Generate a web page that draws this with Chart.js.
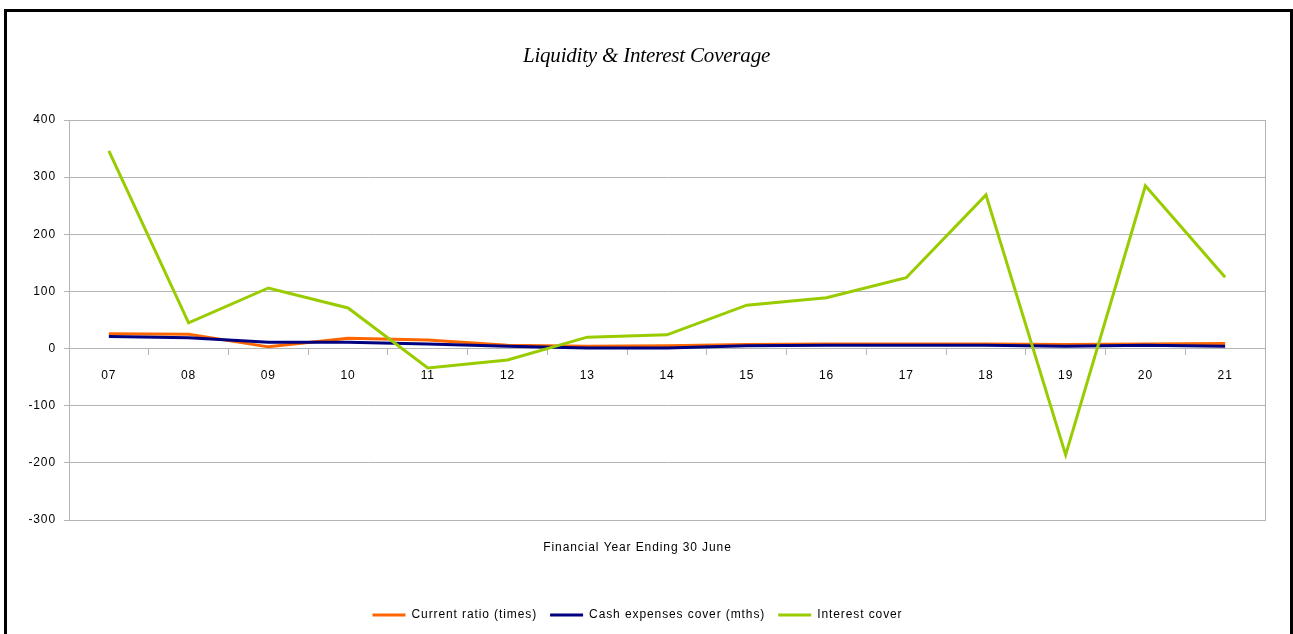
<!DOCTYPE html>
<html>
<head>
<meta charset="utf-8">
<title>Liquidity & Interest Coverage</title>
<script src="https://cdn.jsdelivr.net/npm/chart.js@4/dist/chart.umd.min.js"></script>
<style>
  html, body { margin: 0; padding: 0; background: #fff; }
  #wrap { position: relative; width: 1293px; height: 634px; overflow: hidden; }
  #frame { position: absolute; left: 4px; top: 9px; width: 1283px; height: 700px;
           border: 3px solid #000; border-bottom: none; }
  #c { position: absolute; left: 0; top: 0; }
</style>
</head>
<body>
<div id="wrap">
  <div id="frame"></div>
  <canvas id="c" width="1293" height="634"></canvas>
</div>
<script>
// financial years (labels are the last two digits)
const years = ['07','08','09','10','11','12','13','14','15','16','17','18','19','20','21'];

const currentRatio  = [26, 25, 3, 18, 15, 6, 4, 5, 7, 8, 8, 8, 7, 8, 9];
const cashExpenses  = [21, 19, 11, 11, 8, 4, 1, 1, 5, 6, 6, 6, 4, 6, 4];
const interestCover = [346, 45, 106, 71, -34, -20, 20, 24, 76, 89, 124, 269, -186, 285, 125];

const yTicks = [-300, -200, -100, 0, 100, 200, 300, 400];

const chartTitle = 'Liquidity & Interest Coverage';

const GRID = '#b4b4b4';
const FONT = 'Liberation Sans, Arial, sans-serif';

// loose, spreadsheet-style text spacing for every label the chart draws
const textSpacing = {
  id: 'textSpacing',
  beforeInit(chart) { chart.ctx.letterSpacing = '0.9px'; },
  beforeUpdate(chart) { chart.ctx.letterSpacing = '0.9px'; }
};

// grey box round the plot area
const plotBorder = {
  id: 'plotBorder',
  beforeDatasetsDraw(chart) {
    const { ctx, chartArea: a } = chart;
    ctx.save();
    ctx.strokeStyle = GRID;
    ctx.lineWidth = 1;
    ctx.strokeRect(a.left + 0.5, a.top + 0.5, a.right - a.left, a.bottom - a.top);
    ctx.restore();
  }
};

// italic heading, centred on the whole canvas
const heading = {
  id: 'heading',
  afterDraw(chart) {
    const ctx = chart.ctx;
    ctx.save();
    ctx.letterSpacing = '-0.2px';
    ctx.font = 'italic 21px "Liberation Serif", "Times New Roman", serif';
    ctx.fillStyle = '#000';
    ctx.textAlign = 'center';
    ctx.textBaseline = 'middle';
    ctx.fillText(chartTitle, chart.width / 2, 56);
    ctx.restore();
  }
};

function line(label, data, color, order) {
  return {
    label, data, order,
    borderColor: color,
    backgroundColor: color,
    borderWidth: 3,
    pointRadius: 0,
    pointStyle: 'line',
    tension: 0,
    fill: false
  };
}

new Chart(document.getElementById('c'), {
  type: 'line',
  data: {
    labels: years,
    datasets: [
      line('Current ratio (times)', currentRatio, '#ff6600', 2),
      line('Cash expenses cover (mths)', cashExpenses, '#000080', 1),
      line('Interest cover', interestCover, '#99cc00', 0)
    ]
  },
  options: {
    responsive: false,
    animation: false,
    layout: { padding: { left: 10, right: 28, top: 120, bottom: 3 } },
    plugins: {
      subtitle: {
        display: true,
        position: 'bottom',
        text: 'Financial Year Ending 30 June',
        color: '#000',
        font: { family: FONT, size: 12 },
        padding: { top: 20, bottom: 41.6 }
      },
      legend: {
        position: 'bottom',
        weight: 2500,
        labels: {
          color: '#000',
          font: { family: FONT, size: 12 },
          usePointStyle: true,
          pointStyle: 'line',
          pointStyleWidth: 33,
          boxHeight: 12,
          padding: 13,
          sort: (a, b) => a.datasetIndex - b.datasetIndex
        }
      },
      tooltip: { enabled: false }
    },
    scales: {
      x: {
        position: { y: 0 },
        offset: true,
        grid: { display: true, drawOnChartArea: false, drawTicks: true, tickLength: 6, color: GRID, offset: true },
        border: { display: true, color: GRID },
        ticks: { color: '#000', font: { family: FONT, size: 12 }, padding: 14, maxRotation: 0 }
      },
      y: {
        min: -300,
        max: 400,
        afterBuildTicks: (s) => { s.ticks = yTicks.map(v => ({ value: v })); },
        afterFit: (s) => { s.width = 59; },
        grid: { color: GRID, tickLength: 5 },
        border: { display: true, color: GRID },
        ticks: { color: '#000', font: { family: FONT, size: 12 }, padding: 8 }
      }
    }
  },
  plugins: [textSpacing, plotBorder, heading]
});
</script>
</body>
</html>
